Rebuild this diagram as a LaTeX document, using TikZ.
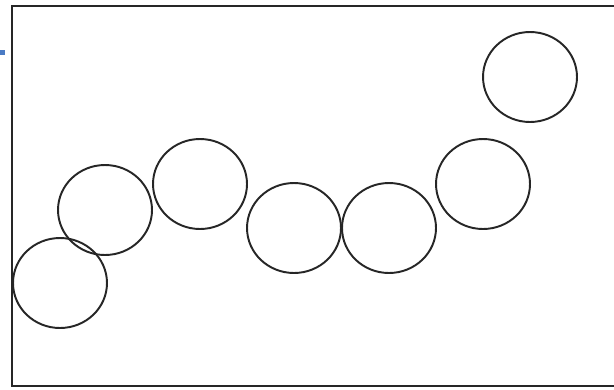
\documentclass[tikz,border=0pt]{standalone}
\usetikzlibrary{shapes.geometric}
\definecolor{TickBlue}{HTML}{4A7BC4}

\begin{document}
\begin{tikzpicture}[x=0.02cm, y=-0.02cm,
            ball/.style={ellipse, draw=black!85, line width=1.1pt,
                         minimum width=1.88cm, minimum height=1.8cm, inner sep=0pt},
            frame/.style={draw=black!85, line width=1.4pt}]

            \clip (0,0) rectangle (614,389);
            \fill[white] (0,0) rectangle (614,389);

            % moldura (lado direito fora da imagem)
            \draw[frame] (630,6) -- (12,6) -- (12,386) -- (630,386);
            \fill[TickBlue] (0,50) rectangle (5,55);

            % esferas
            \node[ball] (c1) at (60,283)   {};
            \node[ball] (c2) at (105,210)  {};
            \node[ball] (c3) at (200,184)  {};
            \node[ball] (c4) at (294,228)  {};
            \node[ball] (c5) at (389,228)  {};
            \node[ball] (c6) at (483,184)  {};
            \node[ball] (c7) at (530,77)   {};
        \end{tikzpicture}
\end{document}
